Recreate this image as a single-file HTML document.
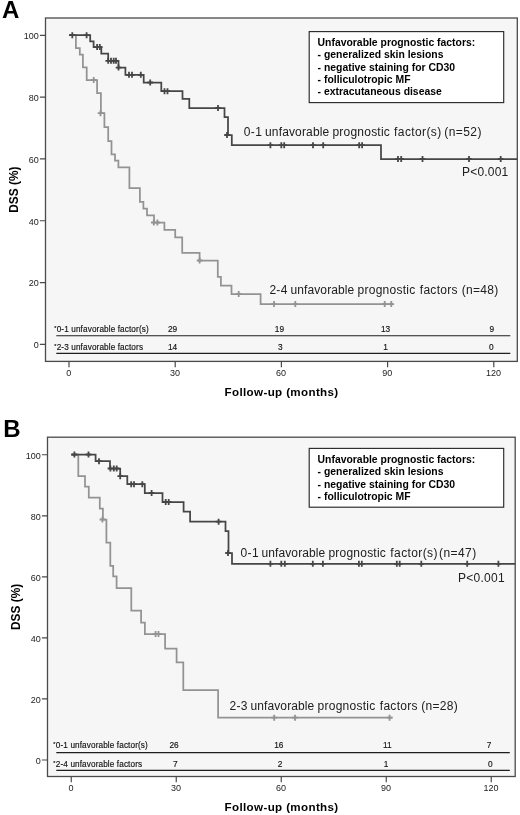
<!DOCTYPE html>
<html lang="en"><head><meta charset="utf-8"><title>Disease-specific survival by number of unfavorable prognostic factors</title>
<style>html,body{margin:0;padding:0;background:#fff}svg{display:block}text{font-family:"Liberation Sans",sans-serif}</style>
</head><body>
<svg width="520" height="815" viewBox="0 0 520 815">
<rect width="520" height="815" fill="#fff"/>
<rect x="45.5" y="18" width="471.79999999999995" height="343.4" fill="#f6f6f6" stroke="#4a4a4a" stroke-width="1.3"/>
<text x="2.0" y="18.4" font-size="24" font-weight="bold" fill="#000">A</text>
<text x="38.8" y="348.20" font-size="9" text-anchor="end" fill="#222">0</text>
<text x="38.8" y="286.38" font-size="9" text-anchor="end" fill="#222">20</text>
<text x="38.8" y="224.56" font-size="9" text-anchor="end" fill="#222">40</text>
<text x="38.8" y="162.74" font-size="9" text-anchor="end" fill="#222">60</text>
<text x="38.8" y="100.92" font-size="9" text-anchor="end" fill="#222">80</text>
<text x="38.8" y="39.10" font-size="9" text-anchor="end" fill="#222">100</text>
<path d="M39.9,344.40H45.5M39.9,282.58H45.5M39.9,220.76H45.5M39.9,158.94H45.5M39.9,97.12H45.5M39.9,35.30H45.5" stroke="#4a4a4a" stroke-width="1.2" fill="none"/>
<text x="68.70" y="375.7" font-size="9" text-anchor="middle" fill="#222">0</text>
<text x="174.90" y="375.7" font-size="9" text-anchor="middle" fill="#222">30</text>
<text x="281.10" y="375.7" font-size="9" text-anchor="middle" fill="#222">60</text>
<text x="387.30" y="375.7" font-size="9" text-anchor="middle" fill="#222">90</text>
<text x="493.50" y="375.7" font-size="9" text-anchor="middle" fill="#222">120</text>
<path d="M69.00,361.4V367.2M175.20,361.4V367.2M281.40,361.4V367.2M387.60,361.4V367.2M493.80,361.4V367.2" stroke="#4a4a4a" stroke-width="1.2" fill="none"/>
<text x="281.6" y="395.8" font-size="11.6" font-weight="bold" text-anchor="middle" letter-spacing="0.36" fill="#000">Follow-up (months)</text>
<text transform="translate(17.5,189.6) rotate(-90)" font-size="11.9" font-weight="bold" text-anchor="middle" fill="#000">DSS (%)</text>
<rect x="309.2" y="31.6" width="194.5" height="71.0" fill="#fff" stroke="#2a2a2a" stroke-width="1.15"/>
<text x="317.6" y="45.60" font-size="10.4" font-weight="bold" fill="#000">Unfavorable prognostic factors:</text>
<text x="317.6" y="58.05" font-size="10.4" font-weight="bold" fill="#000">- generalized skin lesions</text>
<text x="317.6" y="70.50" font-size="10.4" font-weight="bold" fill="#000">- negative staining for CD30</text>
<text x="317.6" y="82.95" font-size="10.4" font-weight="bold" fill="#000">- folliculotropic MF</text>
<text x="317.6" y="95.40" font-size="10.4" font-weight="bold" fill="#000">- extracutaneous disease</text>
<path d="M69.0,35.2H75.9V48.1H79.8V54.6H82.9V67.3H86.7V80.0H97.1V93.1H100.9V113.2H104.4V127.0H108.2V141.0H111.5V154.4H115.0V160.7H118.4V167.4H129.4V188.1H139.9V201.9H143.4V208.7H147.0V215.3H154.0V222.5H164.4V229.8H175.2V237.3H182.2V252.9H199.6V260.5H217.8V276.8H220.9V285.5H231.5V294.0H260.6V304.1H392.8" stroke="#939393" stroke-width="1.75" fill="none" stroke-linejoin="miter"/>
<path d="M93.7,77.0v6.0M90.9,80.0h5.6M100.5,110.2v6.0M97.7,113.2h5.6M153.8,219.5v6.0M151.0,222.5h5.6M157.4,219.5v6.0M154.6,222.5h5.6M199.6,257.5v6.0M196.8,260.5h5.6M238.7,291.0v6.0M235.9,294.0h5.6M274.0,301.1v6.0M271.2,304.1h5.6M295.3,301.1v6.0M292.5,304.1h5.6M384.7,301.1v6.0M381.9,304.1h5.6M391.3,301.1v6.0M388.5,304.1h5.6" stroke="#939393" stroke-width="1.8" fill="none"/>
<path d="M69.0,35.2H90.2V41.3H93.6V47.1H101.3V53.6H108.2V60.8H118.5V67.6H125.4V74.8H143.7V82.5H161.3V91.2H182.5V98.8H189.3V108.0H224.5V117.0H228.0V135.0H231.8V145.2H381.0V159.0H517.3" stroke="#464646" stroke-width="1.75" fill="none" stroke-linejoin="miter"/>
<path d="M72.3,32.2v6.0M69.5,35.2h5.6M86.6,32.2v6.0M83.8,35.2h5.6M97.1,44.1v6.0M94.3,47.1h5.6M99.8,44.1v6.0M97.0,47.1h5.6M108.2,57.8v6.0M105.4,60.8h5.6M111.0,57.8v6.0M108.2,60.8h5.6M113.7,57.8v6.0M110.9,60.8h5.6M116.0,57.8v6.0M113.2,60.8h5.6M118.5,64.6v6.0M115.7,67.6h5.6M129.0,71.8v6.0M126.2,74.8h5.6M132.0,71.8v6.0M129.2,74.8h5.6M140.8,71.8v6.0M138.0,74.8h5.6M150.2,79.5v6.0M147.4,82.5h5.6M164.5,88.2v6.0M161.7,91.2h5.6M167.5,88.2v6.0M164.7,91.2h5.6M218.0,105.0v6.0M215.2,108.0h5.6M227.0,132.0v6.0M224.2,135.0h5.6M270.4,142.2v6.0M267.6,145.2h5.6M281.3,142.2v6.0M278.5,145.2h5.6M284.2,142.2v6.0M281.4,145.2h5.6M313.0,142.2v6.0M310.2,145.2h5.6M323.2,142.2v6.0M320.4,145.2h5.6M359.2,142.2v6.0M356.4,145.2h5.6M362.1,142.2v6.0M359.3,145.2h5.6M398.0,156.0v6.0M395.2,159.0h5.6M401.2,156.0v6.0M398.4,159.0h5.6M422.5,156.0v6.0M419.7,159.0h5.6M469.0,156.0v6.0M466.2,159.0h5.6M500.7,156.0v6.0M497.9,159.0h5.6" stroke="#464646" stroke-width="1.8" fill="none"/>
<text y="136.0" font-size="12" fill="#202020"><tspan x="243.78" letter-spacing="0.380">0-1</tspan> <tspan x="264.97" letter-spacing="0.160">unfavorable</tspan> <tspan x="332.48" letter-spacing="0.219">prognostic</tspan> <tspan x="394.08" letter-spacing="0.395">factor(s)</tspan> <tspan x="444.26" letter-spacing="0.443">(n=52)</tspan></text>
<text y="175.8" font-size="12" fill="#202020"><tspan x="462.02" letter-spacing="0.205">P&lt;0.001</tspan></text>
<text y="294.1" font-size="12" fill="#202020"><tspan x="269.40" letter-spacing="0.306">2-4</tspan> <tspan x="290.47" letter-spacing="0.110">unfavorable</tspan> <tspan x="357.48" letter-spacing="0.275">prognostic</tspan> <tspan x="419.83" letter-spacing="0.265">factors</tspan> <tspan x="461.76" letter-spacing="0.293">(n=48)</tspan></text>
<path d="M56.3,335.7H510.3" stroke="#1e1e1e" stroke-width="1.15" fill="none"/>
<text x="54.2" y="332.0" font-size="8.2" letter-spacing="0.115" fill="#111" stroke="#111" stroke-width="0.15"><tspan font-size="5.5" dy="-2.4">*</tspan><tspan dy="2.4" dx="0.25">0-1 unfavorable factor(s)</tspan></text>
<text x="172.5" y="332.0" font-size="8.3" text-anchor="middle" fill="#111" stroke="#111" stroke-width="0.15">29</text>
<text x="279.4" y="332.0" font-size="8.3" text-anchor="middle" fill="#111" stroke="#111" stroke-width="0.15">19</text>
<text x="385.5" y="332.0" font-size="8.3" text-anchor="middle" fill="#111" stroke="#111" stroke-width="0.15">13</text>
<text x="491.8" y="332.0" font-size="8.3" text-anchor="middle" fill="#111" stroke="#111" stroke-width="0.15">9</text>
<path d="M56.3,353.4H510.3" stroke="#1e1e1e" stroke-width="1.15" fill="none"/>
<text x="54.2" y="349.9" font-size="8.2" letter-spacing="0.115" fill="#111" stroke="#111" stroke-width="0.15"><tspan font-size="5.5" dy="-2.4">*</tspan><tspan dy="2.4" dx="0.25">2-3 unfavorable factors</tspan></text>
<text x="172.5" y="349.9" font-size="8.3" text-anchor="middle" fill="#111" stroke="#111" stroke-width="0.15">14</text>
<text x="280.2" y="349.9" font-size="8.3" text-anchor="middle" fill="#111" stroke="#111" stroke-width="0.15">3</text>
<text x="385.6" y="349.9" font-size="8.3" text-anchor="middle" fill="#111" stroke="#111" stroke-width="0.15">1</text>
<text x="491.2" y="349.9" font-size="8.3" text-anchor="middle" fill="#111" stroke="#111" stroke-width="0.15">0</text>
<rect x="47.5" y="437.2" width="467.70000000000005" height="339.3" fill="#f6f6f6" stroke="#4a4a4a" stroke-width="1.3"/>
<text x="3.2" y="437.2" font-size="24" font-weight="bold" fill="#000">B</text>
<text x="40.8" y="763.80" font-size="9" text-anchor="end" fill="#222">0</text>
<text x="40.8" y="702.75" font-size="9" text-anchor="end" fill="#222">20</text>
<text x="40.8" y="641.70" font-size="9" text-anchor="end" fill="#222">40</text>
<text x="40.8" y="580.65" font-size="9" text-anchor="end" fill="#222">60</text>
<text x="40.8" y="519.60" font-size="9" text-anchor="end" fill="#222">80</text>
<text x="40.8" y="458.55" font-size="9" text-anchor="end" fill="#222">100</text>
<path d="M41.9,760.00H47.5M41.9,698.95H47.5M41.9,637.90H47.5M41.9,576.85H47.5M41.9,515.80H47.5M41.9,454.75H47.5" stroke="#4a4a4a" stroke-width="1.2" fill="none"/>
<text x="70.95" y="790.8" font-size="9" text-anchor="middle" fill="#222">0</text>
<text x="175.95" y="790.8" font-size="9" text-anchor="middle" fill="#222">30</text>
<text x="280.95" y="790.8" font-size="9" text-anchor="middle" fill="#222">60</text>
<text x="385.95" y="790.8" font-size="9" text-anchor="middle" fill="#222">90</text>
<text x="490.95" y="790.8" font-size="9" text-anchor="middle" fill="#222">120</text>
<path d="M71.25,776.5V782.3M176.25,776.5V782.3M281.25,776.5V782.3M386.25,776.5V782.3M491.25,776.5V782.3" stroke="#4a4a4a" stroke-width="1.2" fill="none"/>
<text x="281.6" y="810.5" font-size="11.6" font-weight="bold" text-anchor="middle" letter-spacing="0.36" fill="#000">Follow-up (months)</text>
<text transform="translate(20.2,606.9) rotate(-90)" font-size="11.9" font-weight="bold" text-anchor="middle" fill="#000">DSS (%)</text>
<rect x="309.2" y="448.4" width="194.5" height="58.80000000000001" fill="#fff" stroke="#2a2a2a" stroke-width="1.15"/>
<text x="317.6" y="462.90" font-size="10.4" font-weight="bold" fill="#000">Unfavorable prognostic factors:</text>
<text x="317.6" y="475.35" font-size="10.4" font-weight="bold" fill="#000">- generalized skin lesions</text>
<text x="317.6" y="487.80" font-size="10.4" font-weight="bold" fill="#000">- negative staining for CD30</text>
<text x="317.6" y="500.25" font-size="10.4" font-weight="bold" fill="#000">- folliculotropic MF</text>
<path d="M71.2,454.5H78.3V476.0H85.0V486.6H88.8V497.6H99.8V508.5H102.9V519.5H106.4V542.7H110.3V565.8H113.2V576.4H116.6V588.0H131.3V610.5H141.1V622.6H144.9V634.1H165.1V648.5H176.6V662.4H183.3V690.0H218.1V717.7H392.6" stroke="#939393" stroke-width="1.75" fill="none" stroke-linejoin="miter"/>
<path d="M102.4,516.5v6.0M99.6,519.5h5.6M155.6,631.1v6.0M152.8,634.1h5.6M158.5,631.1v6.0M155.7,634.1h5.6M274.2,714.7v6.0M271.4,717.7h5.6M295.0,714.7v6.0M292.2,717.7h5.6M389.6,714.7v6.0M386.8,717.7h5.6" stroke="#939393" stroke-width="1.8" fill="none"/>
<path d="M71.2,454.5H95.6V461.2H110.0V468.5H120.2V476.2H127.3V484.2H144.8V493.0H162.5V502.0H183.6V511.6H190.1V521.7H225.5V531.2H228.5V553.0H232.0V563.8H515.2" stroke="#464646" stroke-width="1.75" fill="none" stroke-linejoin="miter"/>
<path d="M74.4,451.5v6.0M71.6,454.5h5.6M88.5,451.5v6.0M85.7,454.5h5.6M99.0,458.2v6.0M96.2,461.2h5.6M110.4,465.5v6.0M107.6,468.5h5.6M113.8,465.5v6.0M111.0,468.5h5.6M116.7,465.5v6.0M113.9,468.5h5.6M120.2,473.2v6.0M117.4,476.2h5.6M131.2,481.2v6.0M128.4,484.2h5.6M134.0,481.2v6.0M131.2,484.2h5.6M142.3,481.2v6.0M139.5,484.2h5.6M151.6,490.0v6.0M148.8,493.0h5.6M165.7,499.0v6.0M162.9,502.0h5.6M168.7,499.0v6.0M165.9,502.0h5.6M218.6,518.7v6.0M215.8,521.7h5.6M228.0,550.0v6.0M225.2,553.0h5.6M270.4,560.8v6.0M267.6,563.8h5.6M281.3,560.8v6.0M278.5,563.8h5.6M284.8,560.8v6.0M282.0,563.8h5.6M312.8,560.8v6.0M310.0,563.8h5.6M322.9,560.8v6.0M320.1,563.8h5.6M358.9,560.8v6.0M356.1,563.8h5.6M361.8,560.8v6.0M359.0,563.8h5.6M396.8,560.8v6.0M394.0,563.8h5.6M399.7,560.8v6.0M396.9,563.8h5.6M421.3,560.8v6.0M418.5,563.8h5.6M467.2,560.8v6.0M464.4,563.8h5.6M498.4,560.8v6.0M495.6,563.8h5.6" stroke="#464646" stroke-width="1.8" fill="none"/>
<text y="557.2" font-size="12" fill="#202020"><tspan x="240.53" letter-spacing="0.355">0-1</tspan> <tspan x="261.47" letter-spacing="0.110">unfavorable</tspan> <tspan x="328.48" letter-spacing="0.219">prognostic</tspan> <tspan x="390.33" letter-spacing="0.395">factor(s)</tspan> <tspan x="439.01" letter-spacing="0.443">(n=47)</tspan></text>
<text y="582.1" font-size="12" fill="#202020"><tspan x="458.02" letter-spacing="0.255">P&lt;0.001</tspan></text>
<text y="709.8" font-size="12" fill="#202020"><tspan x="229.40" letter-spacing="0.394">2-3</tspan> <tspan x="250.47" letter-spacing="0.110">unfavorable</tspan> <tspan x="317.48" letter-spacing="0.275">prognostic</tspan> <tspan x="379.83" letter-spacing="0.265">factors</tspan> <tspan x="421.26" letter-spacing="0.293">(n=28)</tspan></text>
<path d="M56.3,752.6H509.8" stroke="#1e1e1e" stroke-width="1.15" fill="none"/>
<text x="53.3" y="748.0" font-size="8.2" letter-spacing="0.115" fill="#111" stroke="#111" stroke-width="0.15"><tspan font-size="5.5" dy="-2.4">*</tspan><tspan dy="2.4" dx="0.25">0-1 unfavorable factor(s)</tspan></text>
<text x="174.1" y="748.0" font-size="8.3" text-anchor="middle" fill="#111" stroke="#111" stroke-width="0.15">26</text>
<text x="278.8" y="748.0" font-size="8.3" text-anchor="middle" fill="#111" stroke="#111" stroke-width="0.15">16</text>
<text x="387.3" y="748.0" font-size="8.3" text-anchor="middle" fill="#111" stroke="#111" stroke-width="0.15">11</text>
<text x="489" y="748.0" font-size="8.3" text-anchor="middle" fill="#111" stroke="#111" stroke-width="0.15">7</text>
<path d="M56.3,770.3H509.8" stroke="#1e1e1e" stroke-width="1.15" fill="none"/>
<text x="53.3" y="767.0" font-size="8.2" letter-spacing="0.115" fill="#111" stroke="#111" stroke-width="0.15"><tspan font-size="5.5" dy="-2.4">*</tspan><tspan dy="2.4" dx="0.25">2-4 unfavorable factors</tspan></text>
<text x="175.3" y="767.0" font-size="8.3" text-anchor="middle" fill="#111" stroke="#111" stroke-width="0.15">7</text>
<text x="280" y="767.0" font-size="8.3" text-anchor="middle" fill="#111" stroke="#111" stroke-width="0.15">2</text>
<text x="386" y="767.0" font-size="8.3" text-anchor="middle" fill="#111" stroke="#111" stroke-width="0.15">1</text>
<text x="490.4" y="767.0" font-size="8.3" text-anchor="middle" fill="#111" stroke="#111" stroke-width="0.15">0</text>
</svg>
</body></html>
